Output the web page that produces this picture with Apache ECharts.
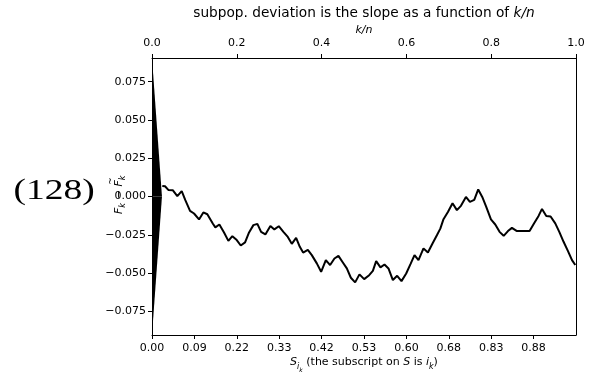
<!DOCTYPE html>
<html>
<head>
<meta charset="utf-8">
<script src="https://cdn.jsdelivr.net/npm/echarts@6/dist/echarts.min.js"></script>
<style>html,body{margin:0;padding:0;background:#fff;}#c{width:593px;height:374px;}</style>
</head>
<body>
<div id="c"></div>
<script>
// k/n positions of the deviation curve
const kn = [0.0243,0.0307,0.0385,0.0489,0.0597,0.0701,0.0786,0.0897,0.0991,0.1109,0.1211,0.1305,0.1433,0.1494,0.1589,0.1699,0.1801,0.1895,0.1999,0.2093,0.2195,0.2289,0.2391,0.2485,0.2573,0.2674,0.2792,0.2886,0.2990,0.3099,0.3203,0.3297,0.3399,0.3486,0.3564,0.3675,0.3769,0.3887,0.3989,0.4100,0.4201,0.4303,0.4397,0.4501,0.4595,0.4690,0.4791,0.4893,0.5004,0.5122,0.5209,0.5287,0.5388,0.5483,0.5577,0.5681,0.5782,0.5884,0.5995,0.6096,0.6191,0.6285,0.6403,0.6507,0.6616,0.6719,0.6800,0.6875,0.6979,0.7088,0.7191,0.7286,0.7404,0.7498,0.7600,0.7694,0.7789,0.7883,0.7994,0.8096,0.8197,0.8294,0.8395,0.8489,0.8598,0.8702,0.8803,0.8905,0.9009,0.9117,0.9198,0.9299,0.9401,0.9511,0.9606,0.9707,0.9811,0.9906,0.9983];
// deviation F_k - F~_k
const deviation = [0.0069,0.0067,0.0043,0.0041,0.0002,0.0035,-0.0024,-0.0094,-0.0111,-0.0150,-0.0104,-0.0116,-0.0176,-0.0202,-0.0183,-0.0235,-0.0290,-0.0259,-0.0285,-0.0320,-0.0300,-0.0235,-0.0187,-0.0179,-0.0231,-0.0248,-0.0192,-0.0215,-0.0194,-0.0231,-0.0264,-0.0309,-0.0270,-0.0329,-0.0366,-0.0349,-0.0383,-0.0437,-0.0492,-0.0416,-0.0448,-0.0405,-0.0388,-0.0431,-0.0470,-0.0531,-0.0561,-0.0509,-0.0540,-0.0514,-0.0486,-0.0422,-0.0463,-0.0444,-0.0470,-0.0546,-0.0518,-0.0553,-0.0503,-0.0442,-0.0383,-0.0416,-0.0339,-0.0366,-0.0307,-0.0253,-0.0210,-0.0148,-0.0101,-0.0044,-0.0089,-0.0061,-0.0003,-0.0035,-0.0022,0.0046,-0.0003,-0.0068,-0.0150,-0.0183,-0.0231,-0.0257,-0.0226,-0.0205,-0.0225,-0.0225,-0.0225,-0.0225,-0.0176,-0.0127,-0.0081,-0.0127,-0.0131,-0.0176,-0.0231,-0.0296,-0.0357,-0.0416,-0.0448];
// triangle halves (k/n, value) vertices
const upperTriangle = [[0, 0.0905], [0, 0], [0.0235, 0]];
const lowerTriangle = [[0, 0], [0, -0.0905], [0.0235, 0]];
// axes
const yMin = -0.0905, yMax = 0.0905;
const yTicks = [-0.075,-0.05,-0.025,0,0.025,0.05,0.075];
const bottomTickPos = [0,0.1,0.2,0.3,0.4,0.5,0.6,0.7,0.8,0.9];
const bottomTickLabels = ['0.00','0.09','0.22','0.33','0.42','0.53','0.60','0.68','0.83','0.88'];

const FONT = 'DejaVu Sans';
const chart = echarts.init(document.getElementById('c'), null, {renderer:'canvas'});
const lineData = kn.map((x,i)=>[x, deviation[i]]);
const axLine = {show:true, onZero:false, lineStyle:{color:'#000', width:1}};
const tickStyle = {show:true, length:4, lineStyle:{color:'#000', width:1}};
const lab = {color:'#000', fontFamily:FONT, fontSize:11};

chart.setOption({
  animation:false,
  backgroundColor:'#fff',
  grid:{left:152, right:17, top:58, bottom:39, containLabel:false, outerBoundsMode:'none'},
  xAxis:[
    {type:'value', position:'bottom', min:0, max:1,
     axisLine:axLine, splitLine:{show:false},
     axisTick:Object.assign({customValues:bottomTickPos}, tickStyle),
     axisLabel:Object.assign({customValues:bottomTickPos, margin:8,
       formatter:(v)=>bottomTickLabels[Math.round(v*10)]}, lab),
     name:'{it|S}{sub|i}{sub2|k}{n| (the subscript on }{it|S}{n| is }{it|i}{sub|k}{n|)}',
     nameLocation:'middle', nameGap:22, nameMoveOverlap:false,
     nameTextStyle:{fontFamily:FONT, fontSize:11, color:'#000',
       rich:{
         it:{fontStyle:'italic', fontSize:11, fontFamily:FONT, color:'#000', verticalAlign:'bottom', padding:[0,0,5,0]},
         n:{fontSize:11, fontFamily:FONT, color:'#000', verticalAlign:'bottom', padding:[0,0,5,0]},
         sub:{fontStyle:'italic', fontSize:8, fontFamily:FONT, color:'#000', verticalAlign:'bottom', padding:[0,0,2,0]},
         sub2:{fontStyle:'italic', fontSize:6, fontFamily:FONT, color:'#000', verticalAlign:'bottom', padding:[0,0,0,0]}
       }}
    },
    {type:'value', position:'top', min:0, max:1, interval:0.2,
     axisLine:axLine, splitLine:{show:false}, axisTick:tickStyle,
     axisLabel:Object.assign({margin:9, formatter:(v)=>v.toFixed(1)}, lab),
     name:'k/n', nameLocation:'middle', nameGap:22, nameMoveOverlap:false,
     nameTextStyle:{fontFamily:FONT, fontSize:11, fontStyle:'italic', color:'#000'}
    }
  ],
  yAxis:[
    {type:'value', position:'left', min:yMin, max:yMax,
     axisLine:axLine, splitLine:{show:false},
     axisTick:Object.assign({customValues:yTicks}, tickStyle),
     axisLabel:Object.assign({customValues:yTicks, margin:6,
       formatter:(v)=> (v < -1e-9 ? '\u2212' : '') + Math.abs(v).toFixed(3)}, lab)
    },
    {type:'value', position:'right', min:yMin, max:yMax,
     axisLine:axLine, axisTick:{show:false}, axisLabel:{show:false}, splitLine:{show:false}}
  ],
  graphic:[
    {type:'text', x:364, y:13, style:{
      text:'subpop. deviation is the slope as a function of {it|k/n}',
      fontFamily:FONT, fontSize:13.7, fill:'#000', align:'center', verticalAlign:'middle',
      rich:{it:{fontFamily:FONT, fontSize:13.7, fontStyle:'italic', fill:'#000'}}}},
    {type:'text', x:54, y:191, scaleX:1.25, style:{
      text:'(128)', fontFamily:'Liberation Serif', fontSize:30, fill:'#000',
      align:'center', verticalAlign:'middle'}},
    // y-axis title F_k − F̃_k, rotated
    {type:'group', x:119, y:194, rotation:Math.PI/2, children:[
      {type:'text', x:-20, y:0, style:{text:'F', fontFamily:FONT, fontStyle:'italic', fontSize:11, fill:'#000', align:'left', verticalAlign:'middle'}},
      {type:'text', x:-13.8, y:3.5, style:{text:'k', fontFamily:FONT, fontStyle:'italic', fontSize:8, fill:'#000', align:'left', verticalAlign:'middle'}},
      {type:'text', x:-8.6, y:0, style:{text:' \u2212 ', fontFamily:FONT, fontSize:11, fill:'#000', align:'left', verticalAlign:'middle'}},
      {type:'text', x:7.6, y:0, style:{text:'F', fontFamily:FONT, fontStyle:'italic', fontSize:11, fill:'#000', align:'left', verticalAlign:'middle'}},
      {type:'text', x:9.2, y:-8.5, style:{text:'~', fontFamily:FONT, fontSize:9, fill:'#000', align:'left', verticalAlign:'middle'}},
      {type:'text', x:13.8, y:3.5, style:{text:'k', fontFamily:FONT, fontStyle:'italic', fontSize:8, fill:'#000', align:'left', verticalAlign:'middle'}}
    ]}
  ],
  series:[
    {type:'custom', xAxisIndex:0, yAxisIndex:0, silent:true, clip:true,
     data:[0],
     renderItem:(params, api)=>({type:'group', children:[
       {type:'polygon', shape:{points:upperTriangle.map(p=>api.coord(p))}, style:{fill:'#000'}},
       {type:'polygon', shape:{points:lowerTriangle.map(p=>api.coord(p))}, style:{fill:'#000'}}
     ]})},
    {type:'line', xAxisIndex:0, yAxisIndex:0, data:lineData, showSymbol:false, symbol:'none',
     lineStyle:{color:'#000', width:2}, itemStyle:{color:'#000'}, silent:true}
  ]
});
</script>
</body>
</html>
